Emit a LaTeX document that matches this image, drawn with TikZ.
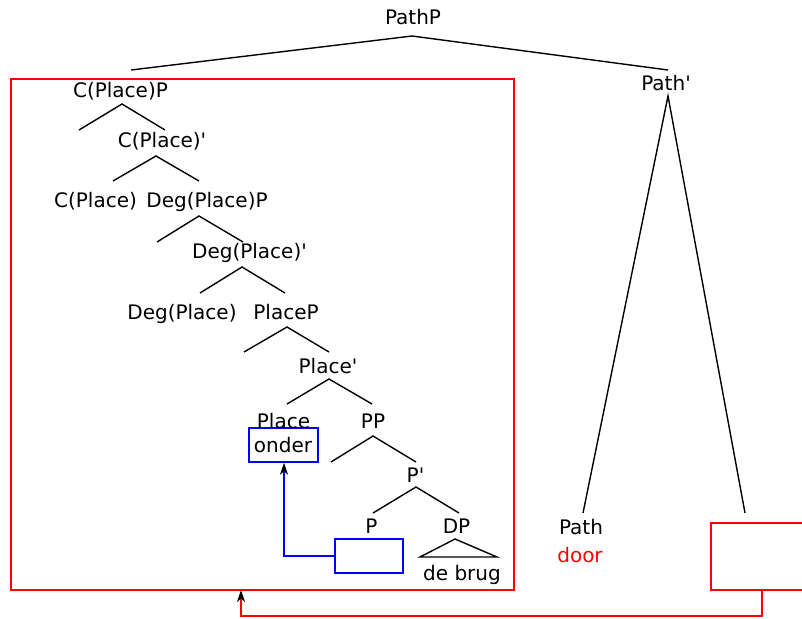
\documentclass[tikz,border=0pt]{standalone}
\usepackage{fontspec}
\setmainfont{DejaVu Sans}
\usetikzlibrary{arrows.meta}
\newcommand{\barmark}{\textquotesingle}
\begin{document}
\begin{tikzpicture}[x=1pt,y=-1pt,
  lbl/.style={anchor=base,inner sep=0pt,font=\fontsize{20}{24}\selectfont},
  branch/.style={line width=1.4pt,black},
  redbox/.style={draw=red,line width=1.5pt,inner sep=0pt},
  bluebox/.style={draw=blue,line width=1.5pt,inner sep=0pt},
  tip/.style={-{Stealth[length=12pt,width=8pt,inset=3.5pt,color=black]}}]
\useasboundingbox (0,0) rectangle (802,618);

% frames
\node[redbox,minimum width=503pt,minimum height=511pt] (cbox) at (262.5,334.5) {};
\node[redbox,minimum width=130pt,minimum height=67pt] (pathbox) at (776,556.5) {};
\node[bluebox,minimum width=69pt,minimum height=34pt] (onderbox) at (283.5,445) {};
\node[bluebox,minimum width=68pt,minimum height=34pt] (trace) at (369,556) {};

% labels
\node[lbl] (pathp) at (413,25) {PathP};
\node[lbl] (pathbar) at (666,90) {Path\barmark};
\node[lbl] (path) at (581,534) {Path};
\node[lbl,text=red] (door) at (580,562) {door};
\node[lbl] (cpp) at (120.5,97) {C(Place)P};
\node[lbl] (cpbar) at (162,147) {C(Place)\barmark};
\node[lbl] (cphead) at (95.5,207) {C(Place)};
\node[lbl] (degpp) at (207,207) {Deg(Place)P};
\node[lbl] (degbar) at (249.5,258) {Deg(Place)\barmark};
\node[lbl] (deghead) at (182,319) {Deg(Place)};
\node[lbl] (placep) at (286,319) {PlaceP};
\node[lbl] (placebar) at (328,373) {Place\barmark};
\node[lbl] (place) at (283.5,428) {Place};
\node[lbl] (onder) at (283,452) {onder};
\node[lbl] (pp) at (373,428) {PP};
\node[lbl] (pbar) at (415.5,482) {P\barmark};
\node[lbl] (phead) at (371.5,533) {P};
\node[lbl] (dp) at (456.5,533) {DP};
\node[lbl] (debrug) at (462,580) {de brug};

% branch points
\coordinate (a0) at (412,36);  \coordinate (l0) at (131,70);  \coordinate (r0) at (668,70);
\coordinate (a1) at (668,96);  \coordinate (l1) at (583,513); \coordinate (r1) at (745,513);
\coordinate (a2) at (122,104); \coordinate (l2) at (79,130);  \coordinate (r2) at (165,130);
\coordinate (a3) at (156,156); \coordinate (l3) at (113,181); \coordinate (r3) at (199,181);
\coordinate (a4) at (199,216); \coordinate (l4) at (157,242); \coordinate (r4) at (243,242);
\coordinate (a5) at (242,267); \coordinate (l5) at (200,293); \coordinate (r5) at (285,293);
\coordinate (a6) at (287,327); \coordinate (l6) at (244,352); \coordinate (r6) at (329,352);
\coordinate (a7) at (329,379); \coordinate (l7) at (287,404); \coordinate (r7) at (372,404);
\coordinate (a8) at (373,436); \coordinate (l8) at (331,462); \coordinate (r8) at (416,462);
\coordinate (a9) at (416,487); \coordinate (l9) at (373,513); \coordinate (r9) at (459,513);

\foreach \i in {0,...,9} {\draw[branch] (l\i) -- (a\i) -- (r\i);}

% roof over the DP
\coordinate (roof) at (455,539);
\draw[branch] (roof) -- (497,557) -- (420,557) -- cycle;

% movement arrows
\coordinate (tracecorner) at (284,556);
\draw[blue,line width=1.5pt,tip] (trace.west) -- (tracecorner) -- (onderbox.south -| tracecorner);
\coordinate (pathdrop) at (762,590);
\coordinate (cland) at (241,590);
\draw[red,line width=1.5pt,tip] (pathdrop) -- ++(0,26) -| (cland);
\end{tikzpicture}
\end{document}
